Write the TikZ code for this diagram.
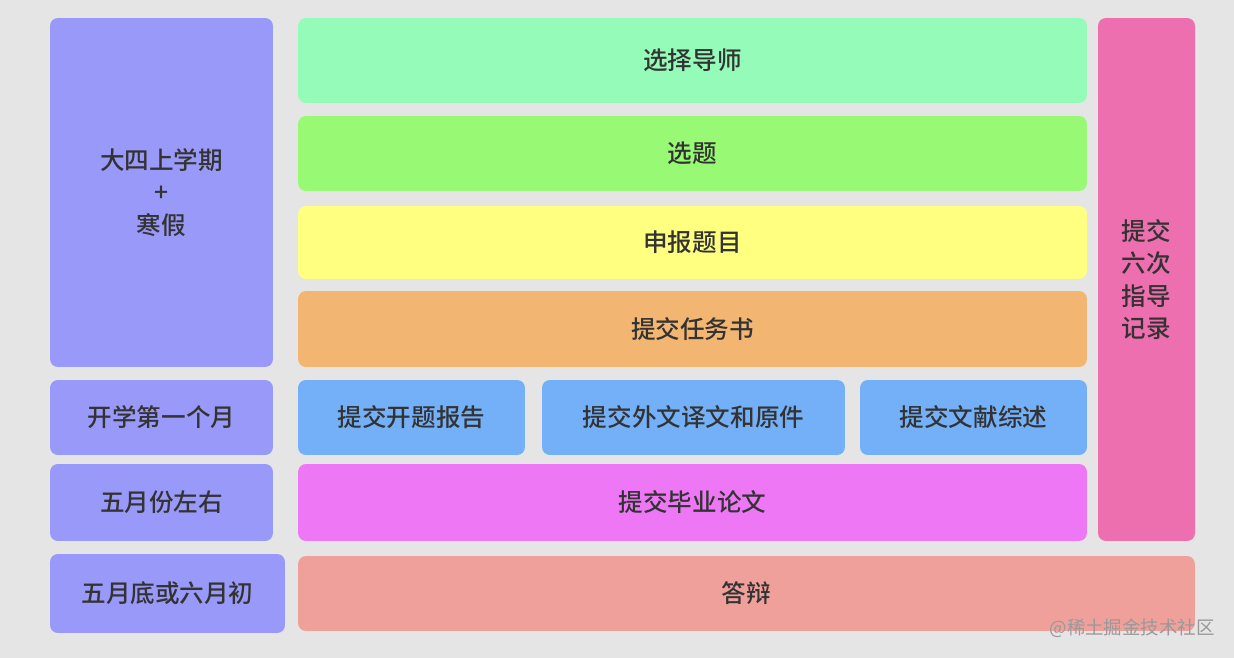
\documentclass[tikz,border=0pt]{standalone}
\usepackage{fontspec}
\setmainfont{Noto Sans CJK SC}[BoldFont={Noto Sans CJK SC Medium}]
\usetikzlibrary{positioning}
\definecolor{bgray}{HTML}{E5E5E5}
\definecolor{ink}{HTML}{333333}
\definecolor{lilac}{HTML}{9999FA}
\definecolor{mint}{HTML}{94FBB8}
\definecolor{lime}{HTML}{98FA74}
\definecolor{lemon}{HTML}{FFFF80}
\definecolor{apricot}{HTML}{F2B572}
\definecolor{sky}{HTML}{73B0F7}
\definecolor{orchid}{HTML}{EE77F5}
\definecolor{rose}{HTML}{EE6FB0}
\definecolor{salmon}{HTML}{F0A09B}
\tikzset{
  blk/.style={rectangle, rounded corners=4.5pt, draw=none, inner sep=0pt,
    text=ink, align=center, font=\bfseries\fontsize{14}{18.5}\selectfont},
  mark lab/.style={text=gray!80, font=\fontsize{10.5}{12}\selectfont, inner sep=0pt},
}

\begin{document}
\begin{tikzpicture}[x=0.02cm, y=-0.02cm]
  \fill[bgray] (0,0) rectangle (1234,658);
  \useasboundingbox (0,0) rectangle (1234,658);

  % time column
  \node[blk, fill=lilac, minimum width=4.46cm, minimum height=6.98cm] (term) at (161.5,192.5) {大四上学期\\+\\寒假};
  \node[blk, fill=lilac, minimum width=4.46cm, minimum height=1.5cm] (month) at (161.5,417.5) {开学第一个月};
  \node[blk, fill=lilac, minimum width=4.46cm, minimum height=1.54cm] (may) at (161.5,502.5) {五月份左右};
  \node[blk, fill=lilac, minimum width=4.7cm, minimum height=1.58cm] (june) at (167.5,593.5) {五月底或六月初};

  % tasks
  \node[blk, fill=mint, minimum width=15.78cm, minimum height=1.7cm] (tutor) at (692.5,60.5) {选择导师};
  \node[blk, fill=lime, minimum width=15.78cm, minimum height=1.5cm] (topic) at (692.5,153.5) {选题};
  \node[blk, fill=lemon, minimum width=15.78cm, minimum height=1.46cm] (apply) at (692.5,242.5) {申报题目};
  \node[blk, fill=apricot, minimum width=15.78cm, minimum height=1.52cm] (task) at (692.5,329) {提交任务书};
  \node[blk, fill=sky, minimum width=4.54cm, minimum height=1.5cm] (proposal) at (411.5,417.5) {提交开题报告};
  \node[blk, fill=sky, minimum width=6.06cm, minimum height=1.5cm] (transl) at (693.5,417.5) {提交外文译文和原件};
  \node[blk, fill=sky, minimum width=4.54cm, minimum height=1.5cm] (review) at (973.5,417.5) {提交文献综述};
  \node[blk, fill=orchid, minimum width=15.78cm, minimum height=1.54cm] (thesis) at (692.5,502.5) {提交毕业论文};

  % records and defence
  \node[blk, fill=rose, minimum width=1.94cm, minimum height=10.46cm] (record) at (1146.5,279.5) {提交\\六次\\指导\\记录};
  \node[blk, fill=salmon, minimum width=17.94cm, minimum height=1.5cm] (defense) at (746.5,593.5) {答辩};

  \node[mark lab, anchor=east] (wmark) at (1215,628) {@稀土掘金技术社区};
\end{tikzpicture}
\end{document}
